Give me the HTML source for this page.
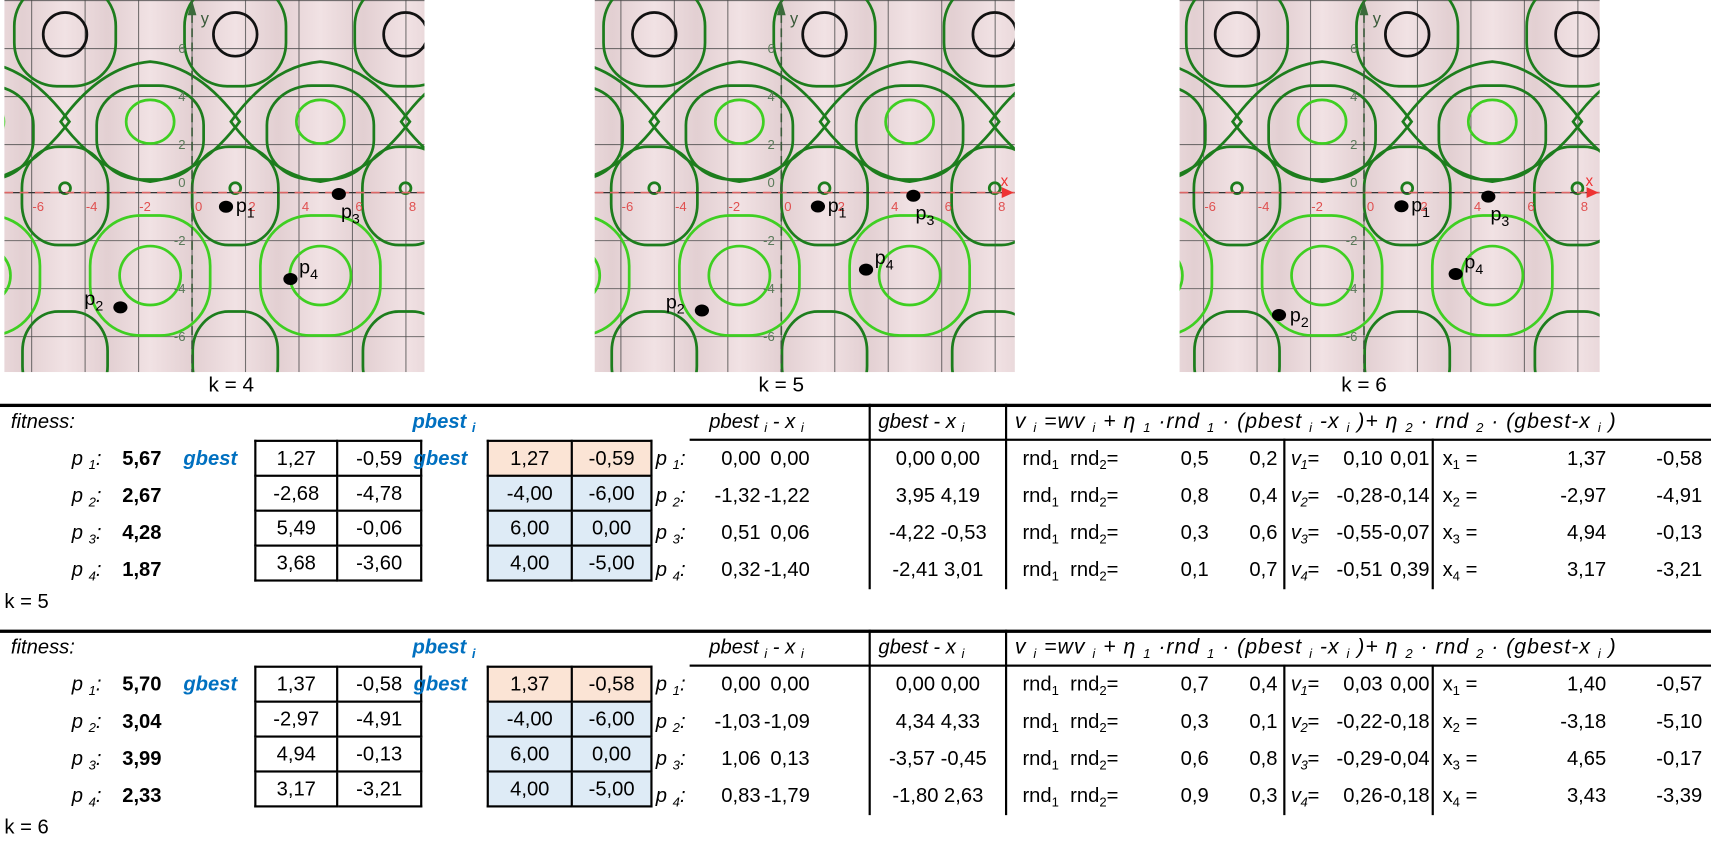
<!DOCTYPE html>
<html><head><meta charset="utf-8">
<style>
html,body{margin:0;padding:0;background:#fff;width:1711px;height:847px;overflow:hidden}
#wrap{position:absolute;left:0;top:0;width:1568px;height:776px;transform:scale(1.09120);transform-origin:0 0;font-family:"Liberation Sans",sans-serif;font-size:18.5px;color:#000}
.a{position:absolute;white-space:nowrap}
.row{position:absolute;left:0;width:1568px;height:34px;line-height:34px}
.row>span{position:absolute;top:0;white-space:nowrap}
i sub,span sub{font-size:12px;vertical-align:-4px;line-height:0}
.pl{left:30px;width:63px;text-align:right;font-style:italic}
.fit{left:112px;font-weight:bold}
.gb{left:168px;color:#0070c0;font-weight:bold;font-style:italic}
.gb2{left:379px;color:#0070c0;font-weight:bold;font-style:italic}
.pl2{left:601px;font-style:italic}
.d1{left:630px;width:67px;text-align:right}
.d2{left:700px;width:42px;text-align:right}
.g{left:797px;width:125px;text-align:center}
.rnd{left:937px}
.r1{left:1082px}.r2{left:1145px}
.vl{left:1183px;font-style:italic;letter-spacing:-0.5px}
.v1{left:1205px;width:62px;text-align:right}
.v2{left:1268px;width:42px;text-align:right}
.xl{left:1322px}
.x1{left:1380px;width:92px;text-align:right}
.x2{left:1495px;width:65px;text-align:right}
.frm{letter-spacing:0.9px;font-size:19.5px}
table.bx{position:absolute;border-collapse:collapse}
table.bx td{border:2px solid #000;height:30px;padding:0;text-align:center;line-height:30px}
.hl{position:absolute;background:#000}
.kl{position:absolute;width:120px;text-align:center;font-size:19px}
</style></head>
<body>
<div id="wrap">
<svg id="plots" width="1568" height="345" style="position:absolute;left:0;top:0"></svg>
<div class="kl" style="left:152px;top:343px">k = 4</div>
<div class="kl" style="left:656px;top:343px">k = 5</div>
<div class="kl" style="left:1190px;top:343px">k = 6</div>

<!-- TABLE k=5 -->
<div style="position:absolute;left:0;top:370px;width:1568px;height:200px">
<div class="hl" style="left:0;top:0;width:1568px;height:3px"></div>
<div class="hl" style="left:632px;top:32px;width:936px;height:2px"></div>
<div class="hl" style="left:796px;top:0;width:2px;height:170px"></div>
<div class="hl" style="left:921px;top:0;width:2px;height:170px"></div>
<div class="hl" style="left:1176px;top:32px;width:2px;height:138px"></div>
<div class="hl" style="left:1312px;top:32px;width:2px;height:138px"></div>
<span class="a" style="left:10px;top:5px;font-style:italic">fitness:</span>
<span class="a" style="left:378px;top:5px;color:#0070c0;font-weight:bold;font-style:italic">pbest <sub>i</sub></span>
<span class="a" style="left:650px;top:5px;font-style:italic">pbest <sub>i</sub> - x <sub>i</sub></span>
<span class="a" style="left:805px;top:5px;font-style:italic">gbest - x <sub>i</sub></span>
<span class="a frm" style="left:930px;top:5px;font-style:italic">v <sub>i</sub> =wv <sub>i</sub> + η <sub>1</sub> ·rnd <sub>1</sub> · (pbest <sub>i</sub> -x <sub>i</sub> )+ η <sub>2</sub> · rnd <sub>2</sub> · (gbest-x <sub>i</sub> )</span>
<table class="bx" style="left:233px;top:33px;width:154px">
<tr><td style="width:73px">1,27</td><td>-0,59</td></tr>
<tr><td>-2,68</td><td>-4,78</td></tr>
<tr><td>5,49</td><td>-0,06</td></tr>
<tr><td>3,68</td><td>-3,60</td></tr></table>
<table class="bx" style="left:446px;top:33px;width:152px">
<tr style="background:#fbe4d5"><td style="width:75px">1,27</td><td>-0,59</td></tr>
<tr style="background:#deebf6"><td>-4,00</td><td>-6,00</td></tr>
<tr style="background:#deebf6"><td>6,00</td><td>0,00</td></tr>
<tr style="background:#deebf6"><td>4,00</td><td>-5,00</td></tr></table>
<div class="row" style="top:33px"><span class="pl">p <sub>1</sub>:</span><span class="fit">5,67</span><span class="gb">gbest</span><span class="gb2">gbest</span><span class="pl2">p <sub>1</sub>:</span><span class="d1">0,00</span><span class="d2">0,00</span><span class="g">0,00 0,00</span><span class="rnd">rnd<sub>1</sub>&nbsp; rnd<sub>2</sub>=</span><span class="r1">0,5</span><span class="r2">0,2</span><span class="vl">v<sub>1</sub>=</span><span class="v1">0,10</span><span class="v2">0,01</span><span class="xl">x<sub>1</sub> =</span><span class="x1">1,37</span><span class="x2">-0,58</span></div>
<div class="row" style="top:67px"><span class="pl">p <sub>2</sub>:</span><span class="fit">2,67</span><span class="pl2">p <sub>2</sub>:</span><span class="d1">-1,32</span><span class="d2">-1,22</span><span class="g">3,95 4,19</span><span class="rnd">rnd<sub>1</sub>&nbsp; rnd<sub>2</sub>=</span><span class="r1">0,8</span><span class="r2">0,4</span><span class="vl">v<sub>2</sub>=</span><span class="v1">-0,28</span><span class="v2">-0,14</span><span class="xl">x<sub>2</sub> =</span><span class="x1">-2,97</span><span class="x2">-4,91</span></div>
<div class="row" style="top:101px"><span class="pl">p <sub>3</sub>:</span><span class="fit">4,28</span><span class="pl2">p <sub>3</sub>:</span><span class="d1">0,51</span><span class="d2">0,06</span><span class="g">-4,22 -0,53</span><span class="rnd">rnd<sub>1</sub>&nbsp; rnd<sub>2</sub>=</span><span class="r1">0,3</span><span class="r2">0,6</span><span class="vl">v<sub>3</sub>=</span><span class="v1">-0,55</span><span class="v2">-0,07</span><span class="xl">x<sub>3</sub> =</span><span class="x1">4,94</span><span class="x2">-0,13</span></div>
<div class="row" style="top:135px"><span class="pl">p <sub>4</sub>:</span><span class="fit">1,87</span><span class="pl2">p <sub>4</sub>:</span><span class="d1">0,32</span><span class="d2">-1,40</span><span class="g">-2,41 3,01</span><span class="rnd">rnd<sub>1</sub>&nbsp; rnd<sub>2</sub>=</span><span class="r1">0,1</span><span class="r2">0,7</span><span class="vl">v<sub>4</sub>=</span><span class="v1">-0,51</span><span class="v2">0,39</span><span class="xl">x<sub>4</sub> =</span><span class="x1">3,17</span><span class="x2">-3,21</span></div>
<span class="a" style="left:4px;top:170px">k = 5</span>
</div>

<!-- TABLE k=6 -->
<div style="position:absolute;left:0;top:577px;width:1568px;height:200px">
<div class="hl" style="left:0;top:0;width:1568px;height:3px"></div>
<div class="hl" style="left:632px;top:32px;width:936px;height:2px"></div>
<div class="hl" style="left:796px;top:0;width:2px;height:170px"></div>
<div class="hl" style="left:921px;top:0;width:2px;height:170px"></div>
<div class="hl" style="left:1176px;top:32px;width:2px;height:138px"></div>
<div class="hl" style="left:1312px;top:32px;width:2px;height:138px"></div>
<span class="a" style="left:10px;top:5px;font-style:italic">fitness:</span>
<span class="a" style="left:378px;top:5px;color:#0070c0;font-weight:bold;font-style:italic">pbest <sub>i</sub></span>
<span class="a" style="left:650px;top:5px;font-style:italic">pbest <sub>i</sub> - x <sub>i</sub></span>
<span class="a" style="left:805px;top:5px;font-style:italic">gbest - x <sub>i</sub></span>
<span class="a frm" style="left:930px;top:5px;font-style:italic">v <sub>i</sub> =wv <sub>i</sub> + η <sub>1</sub> ·rnd <sub>1</sub> · (pbest <sub>i</sub> -x <sub>i</sub> )+ η <sub>2</sub> · rnd <sub>2</sub> · (gbest-x <sub>i</sub> )</span>
<table class="bx" style="left:233px;top:33px;width:154px">
<tr><td style="width:73px">1,37</td><td>-0,58</td></tr>
<tr><td>-2,97</td><td>-4,91</td></tr>
<tr><td>4,94</td><td>-0,13</td></tr>
<tr><td>3,17</td><td>-3,21</td></tr></table>
<table class="bx" style="left:446px;top:33px;width:152px">
<tr style="background:#fbe4d5"><td style="width:75px">1,37</td><td>-0,58</td></tr>
<tr style="background:#deebf6"><td>-4,00</td><td>-6,00</td></tr>
<tr style="background:#deebf6"><td>6,00</td><td>0,00</td></tr>
<tr style="background:#deebf6"><td>4,00</td><td>-5,00</td></tr></table>
<div class="row" style="top:33px"><span class="pl">p <sub>1</sub>:</span><span class="fit">5,70</span><span class="gb">gbest</span><span class="gb2">gbest</span><span class="pl2">p <sub>1</sub>:</span><span class="d1">0,00</span><span class="d2">0,00</span><span class="g">0,00 0,00</span><span class="rnd">rnd<sub>1</sub>&nbsp; rnd<sub>2</sub>=</span><span class="r1">0,7</span><span class="r2">0,4</span><span class="vl">v<sub>1</sub>=</span><span class="v1">0,03</span><span class="v2">0,00</span><span class="xl">x<sub>1</sub> =</span><span class="x1">1,40</span><span class="x2">-0,57</span></div>
<div class="row" style="top:67px"><span class="pl">p <sub>2</sub>:</span><span class="fit">3,04</span><span class="pl2">p <sub>2</sub>:</span><span class="d1">-1,03</span><span class="d2">-1,09</span><span class="g">4,34 4,33</span><span class="rnd">rnd<sub>1</sub>&nbsp; rnd<sub>2</sub>=</span><span class="r1">0,3</span><span class="r2">0,1</span><span class="vl">v<sub>2</sub>=</span><span class="v1">-0,22</span><span class="v2">-0,18</span><span class="xl">x<sub>2</sub> =</span><span class="x1">-3,18</span><span class="x2">-5,10</span></div>
<div class="row" style="top:101px"><span class="pl">p <sub>3</sub>:</span><span class="fit">3,99</span><span class="pl2">p <sub>3</sub>:</span><span class="d1">1,06</span><span class="d2">0,13</span><span class="g">-3,57 -0,45</span><span class="rnd">rnd<sub>1</sub>&nbsp; rnd<sub>2</sub>=</span><span class="r1">0,6</span><span class="r2">0,8</span><span class="vl">v<sub>3</sub>=</span><span class="v1">-0,29</span><span class="v2">-0,04</span><span class="xl">x<sub>3</sub> =</span><span class="x1">4,65</span><span class="x2">-0,17</span></div>
<div class="row" style="top:135px"><span class="pl">p <sub>4</sub>:</span><span class="fit">2,33</span><span class="pl2">p <sub>4</sub>:</span><span class="d1">0,83</span><span class="d2">-1,79</span><span class="g">-1,80 2,63</span><span class="rnd">rnd<sub>1</sub>&nbsp; rnd<sub>2</sub>=</span><span class="r1">0,9</span><span class="r2">0,3</span><span class="vl">v<sub>4</sub>=</span><span class="v1">0,26</span><span class="v2">-0,18</span><span class="xl">x<sub>4</sub> =</span><span class="x1">3,43</span><span class="x2">-3,39</span></div>
<span class="a" style="left:4px;top:170px">k = 6</span>
</div>
</div>

<script>
const plotNames=['k4','k5','k6'];
const k4X=[1.27,-2.68,5.49,3.68];
const k4Y=[-0.59,-4.78,-0.06,-3.60];
const k5X=[1.37,-2.97,4.94,3.17];
const k5Y=[-0.58,-4.91,-0.13,-3.21];
const k6X=[1.40,-3.18,4.65,3.43];
const k6Y=[-0.57,-5.10,-0.17,-3.39];
const pointNames=['1','2','3','4'];
const xTicks=[-6,-4,-2,0,2,4,6,8];
const yTicks=[-6,-4,-2,0,2,4,6];

const NS='http://www.w3.org/2000/svg';
const svg=document.getElementById('plots');
const frames=[{l:4,r:389,ax:176},{l:545,r:930,ax:716},{l:1081,r:1466,ax:1250}];
const AY=176.5, SX=24.5, SY=22;
const allX=[k4X,k5X,k6X], allY=[k4Y,k5Y,k6Y];
function mk(tag,attrs,parent){const e=document.createElementNS(NS,tag);for(const k in attrs)e.setAttribute(k,attrs[k]);(parent||svg).appendChild(e);return e;}

const defs=mk('defs',{});
const grad=mk('linearGradient',{id:'bgg',x1:'0',x2:'1',y1:'0',y2:'0'},defs);
mk('stop',{offset:'0','stop-color':'#dcc8cb'},grad);
mk('stop',{offset:'0.5','stop-color':'#f7eaec'},grad);
mk('stop',{offset:'1','stop-color':'#dcc8cb'},grad);

frames.forEach((f,pi)=>{
  const cp=mk('clipPath',{id:'cp'+pi},defs);
  mk('rect',{x:f.l,y:0,width:f.r-f.l,height:341},cp);
  const g=mk('g',{'clip-path':'url(#cp'+pi+')'});
  
  
  mk('rect',{x:f.l,y:0,width:f.r-f.l,height:341,fill:'#ead8da'},g);
  const ox=f.ax+39.6;
  for(let n=-4;n<=4;n++){
    const c=ox+78*n-39;
    mk('rect',{x:c,y:0,width:78,height:341,fill:'url(#bgg)',opacity:0.55},g);
  }
  for(let n=-5;n<=5;n++){
    mk('line',{x1:f.ax+49*n,x2:f.ax+49*n,y1:0,y2:341,stroke:'#4a4a4a','stroke-width':1,opacity:0.75},g);
    mk('line',{x1:f.l,x2:f.r,y1:AY+44*n,y2:AY+44*n,stroke:'#4a4a4a','stroke-width':1,opacity:0.75},g);
  }
  const dk='#1d7d1d', lt='#3fcf22';
  function sq(cx,cy,w,h,col,sw){mk('rect',{x:cx-w/2,y:cy-h/2,width:w,height:h,rx:w*0.42,ry:h*0.42,fill:'none',stroke:col,'stroke-width':sw||2.5},g);}
  function dia(cx,top,bot,hw,col){
    const my=(top+bot)/2;
    const d=`M${cx},${top} Q${cx+hw*0.55},${top+4} ${cx+hw},${my} Q${cx+hw*0.55},${bot-6} ${cx},${bot} Q${cx-hw*0.55},${bot-6} ${cx-hw},${my} Q${cx-hw*0.55},${top+4} ${cx},${top} Z`;
    mk('path',{d:d,fill:'none',stroke:col,'stroke-width':2.5},g);
  }
  for(let n=-3;n<=3;n++){
    const cx=ox+156*n, bx=cx+78;
    mk('circle',{cx:cx,cy:AY-145,r:20,fill:'none',stroke:'#111','stroke-width':2.5},g);
    sq(cx,AY-145,93,95,dk);
    mk('circle',{cx:cx,cy:AY-4,r:5,fill:'none',stroke:dk,'stroke-width':2.5},g);
    sq(cx,AY+3,79,90,dk);
    sq(cx,AY+152,78,86,dk);
    mk('ellipse',{cx:bx,cy:AY-65,rx:22,ry:20,fill:'none',stroke:lt,'stroke-width':2.5},g);
    sq(bx,AY-55,98,86,dk);
    dia(bx,AY-120,AY-10,82,dk);
    mk('ellipse',{cx:bx,cy:AY+76,rx:28,ry:27,fill:'none',stroke:lt,'stroke-width':2.5},g);
    sq(bx,AY+76,110,110,lt);
  }
  mk('line',{x1:f.l,x2:f.r,y1:AY,y2:AY,stroke:'#333','stroke-width':1.2},g);
  mk('line',{x1:f.l,x2:f.r,y1:AY,y2:AY,stroke:'#d66','stroke-width':1.5,'stroke-dasharray':'8,6'},g);
  mk('line',{x1:f.ax,x2:f.ax,y1:0,y2:341,stroke:'#3a5a3a','stroke-width':1.5,'stroke-dasharray':'8,5'},g);
  mk('path',{d:`M${f.ax-4},14 L${f.ax},0 L${f.ax+4},14 Z`,fill:'#3a6a3a'},g);
  const yl=mk('text',{x:f.ax+8,y:22,'font-size':15,fill:'#3a5a3a','font-family':'Liberation Sans, sans-serif'},g);yl.textContent='y';
  if(pi>0){
    mk('path',{d:`M${f.r-12},${AY-5} L${f.r-1},${AY} L${f.r-12},${AY+5} Z`,fill:'#e33'},g);
    const xl=mk('text',{x:f.r-13,y:AY-6,'font-size':14,fill:'#e33','font-family':'Liberation Sans, sans-serif'},g);xl.textContent='x';
  }
  xTicks.forEach(t=>{
    const tx=mk('text',{x:f.ax+t*SX+6,y:AY+17,'font-size':12,fill:'#e05050','text-anchor':'middle','font-family':'Liberation Sans, sans-serif'},g);
    
    
    tx.textContent=String(t);
  });
  yTicks.forEach(t=>{
    if(t===0){return;}
    const ty=mk('text',{x:f.ax-6,y:AY-t*SY+4,'font-size':12,fill:'#5a7a5a','text-anchor':'end','font-family':'Liberation Sans, sans-serif'},g);
    
    
    ty.textContent=String(t);
  });
  const t0=mk('text',{x:f.ax-6,y:AY-5,'font-size':12,fill:'#5a7a5a','text-anchor':'end'},g);t0.textContent='0';
  const xs=allX[pi], ys=allY[pi];
  xs.forEach((v,i)=>{
    const px=f.ax+v*SX, py=AY-ys[i]*SY;
    const dot=mk('ellipse',{cx:px,cy:py,rx:6.5,ry:5.5,fill:'#000'},g);
    
    
    let dx=9,dy=5;
    if(i===1&&pi<2){dx=-33;dy=-2;}
    if(i===1&&pi===2){dx=10;dy=6;}
    if(i===2){dx=2;dy=22;}
    if(i===3){dx=8;dy=-5;}
    const lb=mk('text',{x:px+dx,y:py+dy,'font-size':18,fill:'#000','font-family':'Liberation Sans, sans-serif'},g);
    
    
    lb.textContent='p';
    const sb=mk('tspan',{'font-size':13,dy:5},lb);sb.textContent=pointNames[i];
  });
});
</script>
</body></html>
